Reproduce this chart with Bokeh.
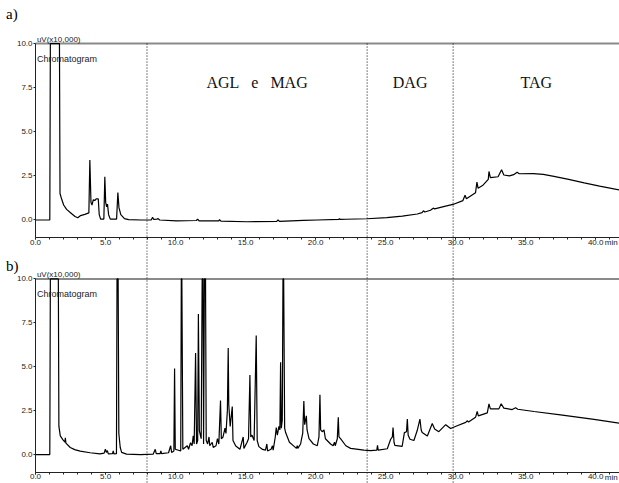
from bokeh.plotting import figure
from bokeh.layouts import column
from bokeh.models import Range1d, FixedTicker, NumeralTickFormatter, ColumnDataSource
from bokeh.core.properties import value
from bokeh.embed import file_html
from bokeh.resources import INLINE

# ---- chromatogram (a): retention time [min] and detector signal [uV x 10,000] ----
a_time = [
    0.0, 1.02, 1.06, 1.71, 1.75, 1.86, 2.01, 2.22, 2.52, 2.82,
    3.02, 3.22, 3.52, 3.81, 3.88, 3.96, 4.03, 4.13, 4.23, 4.33,
    4.48, 4.55, 4.65, 4.88, 4.95, 5.01, 5.08, 5.14, 5.22, 5.34,
    5.79, 5.88, 5.96, 6.09, 6.35, 6.65, 7.55, 8.26, 8.36, 8.44,
    8.66, 8.76, 8.86, 10.07, 11.48, 11.58, 11.68, 13.09, 13.14, 13.24,
    15.1, 17.22, 17.32, 17.42, 19.13, 20.14, 21.65, 21.7, 21.75, 22.16,
    23.67, 25.08, 26.19, 27.26, 27.6, 27.7, 27.8, 28.2, 28.4, 28.5,
    29.21, 29.81, 30.52, 30.67, 30.77, 31.42, 31.52, 31.6, 31.92, 32.33,
    32.38, 32.48, 33.03, 33.28, 33.44, 33.84, 34.14, 34.39, 34.54, 35.55,
    36.26, 37.02, 38.07, 39.18, 40.28, 41.7,
]
a_signal = [
    0.0, 0.0, 10.0, 10.0, 1.5, 1.2, 0.85, 0.6, 0.4, 0.2,
    0.13, 0.25, 0.32, 0.4, 3.4, 1.0, 0.85, 1.15, 1.1, 1.2,
    1.2, 0.3, 0.05, 0.05, 2.45, 1.0, 0.75, 0.9, 0.3, 0.05,
    0.05, 1.55, 0.7, 0.3, 0.08, 0.02, 0.0, 0.0, 0.15, 0.03,
    0.05, 0.08, 0.0, -0.05, -0.03, 0.05, -0.05, -0.05, 0.02, -0.07,
    -0.1, -0.08, 0.0, -0.08, -0.02, 0.0, 0.03, 0.08, 0.03, 0.04,
    0.07, 0.13, 0.22, 0.34, 0.42, 0.52, 0.45, 0.55, 0.67, 0.63,
    0.77, 0.88, 1.1, 1.4, 1.2, 1.55, 2.15, 1.8, 1.95, 2.3,
    2.75, 2.4, 2.45, 2.85, 2.55, 2.5, 2.57, 2.7, 2.62, 2.63,
    2.58, 2.47, 2.3, 2.1, 1.92, 1.7,
]

# ---- chromatogram (b) ----
b_time = [
    0.0, 1.02, 1.06, 1.63, 1.67, 1.77, 1.95, 2.1, 2.13, 2.17,
    2.48, 2.8, 3.19, 3.9, 4.6, 4.9, 4.99, 5.06, 5.13, 5.2,
    5.5, 5.55, 5.6, 5.78, 5.82, 5.9, 5.95, 6.05, 6.15, 6.5,
    7.5, 8.4, 8.55, 8.62, 8.9, 8.95, 9.0, 9.5, 9.65, 9.72,
    9.88, 9.93, 9.98, 10.37, 10.41, 10.45, 10.52, 10.84, 10.93, 11.07,
    11.18, 11.26, 11.33, 11.43, 11.5, 11.58, 11.63, 11.7, 11.83, 11.9,
    11.96, 12.0, 12.06, 12.14, 12.19, 12.29, 12.39, 12.44, 12.62, 12.69,
    12.89, 12.99, 13.09, 13.21, 13.27, 13.39, 13.53, 13.6, 13.7, 13.76,
    13.8, 13.9, 14.05, 14.1, 14.3, 14.6, 14.83, 14.88, 15.11, 15.21,
    15.31, 15.37, 15.46, 15.61, 15.76, 15.83, 15.95, 16.21, 16.42, 16.52,
    16.57, 16.82, 16.92, 16.97, 17.12, 17.19, 17.27, 17.38, 17.45, 17.5,
    17.55, 17.62, 17.67, 17.72, 17.79, 17.86, 18.13, 18.45, 18.63, 18.69,
    18.73, 18.93, 19.0, 19.08, 19.16, 19.22, 19.34, 19.39, 19.53, 19.84,
    20.12, 20.24, 20.31, 20.36, 20.47, 20.6, 20.7, 21.07, 21.25, 21.35,
    21.4, 21.55, 21.62, 21.67, 21.78, 22.16, 22.5, 23.45, 23.93, 24.37,
    24.42, 24.47, 25.12, 25.36, 25.48, 25.53, 25.6, 25.66, 26.18, 26.34,
    26.49, 26.55, 26.61, 26.74, 27.02, 27.26, 27.45, 27.54, 27.61, 27.98,
    28.33, 28.5, 28.8, 29.29, 29.64, 30.11, 30.72, 30.82, 30.92, 31.42,
    31.54, 31.62, 32.26, 32.38, 32.48, 33.09, 33.25, 33.44, 34.04, 34.28,
    34.44, 35.59, 37.49, 39.88, 41.7,
]
b_signal = [
    0.0, 0.0, 10.0, 10.0, 1.6, 1.06, 0.85, 0.7, 0.95, 0.65,
    0.4, 0.28, 0.19, 0.1, 0.04, 0.08, 0.3, 0.12, 0.22, 0.04,
    0.05, 0.2, 0.04, 0.05, 10.0, 10.0, 1.2, 0.4, 0.12, 0.02,
    0.0, 0.02, 0.3, 0.05, 0.05, 0.2, 0.05, 0.1, 0.5, 0.12,
    0.2, 4.9, 0.3, 0.2, 10.0, 10.0, 0.3, 0.5, 0.3, 0.67,
    0.5, 1.06, 0.6, 5.78, 0.6, 0.8, 8.0, 1.35, 0.9, 10.0,
    10.0, 0.6, 10.0, 10.0, 0.8, 0.6, 1.0, 0.5, 0.7, 0.4,
    0.5, 0.9, 0.6, 3.08, 0.9, 1.0, 1.5, 1.2, 2.5, 6.07,
    2.85, 1.6, 2.73, 0.8, 0.48, 0.3, 1.0, 0.35, 0.7, 0.9,
    4.53, 1.0, 1.1, 0.8, 6.78, 0.8, 0.45, 0.29, 0.25, 0.6,
    0.2, 0.3, 0.5, 0.25, 1.0, 1.54, 1.1, 1.6, 1.4, 5.26,
    1.5, 1.95, 10.0, 10.0, 1.5, 1.25, 0.7, 0.48, 0.35, 0.5,
    0.35, 0.6, 0.9, 1.2, 3.05, 1.7, 2.2, 1.4, 0.9, 0.6,
    0.5, 1.0, 3.41, 1.4, 1.3, 1.4, 0.9, 0.6, 0.5, 0.7,
    0.5, 0.9, 2.12, 1.0, 0.9, 0.5, 0.35, 0.25, 0.22, 0.25,
    0.52, 0.25, 0.33, 0.87, 1.0, 1.54, 0.7, 0.52, 0.46, 1.25,
    1.3, 2.02, 1.1, 0.87, 0.8, 1.38, 2.02, 1.4, 1.25, 1.06,
    1.77, 1.45, 1.3, 1.7, 1.48, 1.64, 1.83, 1.92, 1.85, 2.12,
    2.45, 2.2, 2.37, 2.89, 2.6, 2.6, 2.89, 2.64, 2.56, 2.66,
    2.58, 2.45, 2.26, 2.0, 1.79,
]

# ---- axes and annotations ----
time_ticks = [0, 5, 10, 15, 20, 25, 30, 35, 40]
time_minor_ticks = list(range(0, 42))
signal_ticks = [0.0, 2.5, 5.0, 7.5, 10.0]
full_scale = 10.0
region_bounds = [7.96, 23.68, 29.82]
region_names = ["AGL\u00a0\u00a0\u00a0e\u00a0\u00a0\u00a0MAG", "DAG", "TAG"]
panel_letters = ["a)", "b)"]
unit_text = "uV(x10,000)"
trace_title = "Chromatogram"

X_START = -2.5   # room left of the signal axis for its tick labels
X_END = 41.7
SANS = "Liberation Sans"
SERIF = "Liberation Serif"
INK = "#222222"


def make_panel(height, y_lo, y_hi, times, signal, letter, letter_y, dotted_from_top):
    p = figure(width=619, height=height,
               x_range=Range1d(X_START, X_END), y_range=Range1d(y_lo, y_hi),
               output_backend="svg", toolbar_location=None,
               min_border_left=0, min_border_right=0,
               min_border_top=0, min_border_bottom=0,
               outline_line_color=None, background_fill_color="white",
               border_fill_color="white")
    p.xgrid.visible = False
    p.ygrid.visible = False

    # both axes are pinned inside the frame so the frame spans the whole panel
    xa = p.xaxis[0]
    xa.fixed_location = -1.0
    xa.bounds = (0, X_END)
    xa.ticker = FixedTicker(ticks=time_ticks, minor_ticks=time_minor_ticks)
    xa.formatter = NumeralTickFormatter(format="0.0")
    xa.major_tick_in = 0
    xa.major_tick_out = 2
    xa.minor_tick_in = 0
    xa.minor_tick_out = 2
    xa.major_label_standoff = 0
    xa.major_label_text_font = SANS
    xa.major_label_text_font_size = "8px"
    xa.major_label_text_color = INK
    xa.axis_line_color = INK
    xa.major_tick_line_color = INK
    xa.minor_tick_line_color = INK

    ya = p.yaxis[0]
    ya.fixed_location = 0.0
    ya.bounds = (-1.0, full_scale)
    ya.ticker = FixedTicker(ticks=signal_ticks, minor_ticks=[])
    ya.formatter = NumeralTickFormatter(format="0.0")
    ya.major_tick_in = 0
    ya.major_tick_out = 2
    ya.major_label_standoff = 1
    ya.major_label_text_font = SANS
    ya.major_label_text_font_size = "8px"
    ya.major_label_text_color = INK
    ya.axis_line_color = INK
    ya.major_tick_line_color = INK

    # full-scale limit line
    p.segment(x0=[0], x1=[X_END], y0=[full_scale], y1=[full_scale],
              line_color="#8a8a8a", line_width=2)

    # fraction boundaries
    top = full_scale if dotted_from_top else y_hi
    p.segment(x0=region_bounds, x1=region_bounds,
              y0=[top] * len(region_bounds), y1=[y_lo] * len(region_bounds),
              line_color="black", line_width=1, line_dash="1 2")

    src = ColumnDataSource(dict(t=times, s=signal))
    p.line("t", "s", source=src, line_color="black", line_width=1.2)

    p.text(x=[0.1], y=[full_scale + 0.25], text=[unit_text],
           text_font=value(SANS), text_font_size="8px", text_color=INK,
           text_align="left", text_baseline="alphabetic")
    p.text(x=[0.1], y=[9.12], text=[trace_title],
           text_font=value(SANS), text_font_size="9px", text_color=INK,
           text_align="left", text_baseline="alphabetic")
    p.text(x=[40.65], y=[-1.3], text=["min"],
           text_font=value(SANS), text_font_size="8px", text_color=INK,
           text_align="left", text_baseline="middle")
    p.text(x=[-2.1], y=[letter_y], text=[letter],
           text_font=value(SERIF), text_font_size="15px", text_color="black",
           text_align="left", text_baseline="alphabetic")
    return p


top = make_panel(250, -1.73, 12.44, a_time, a_signal, panel_letters[0], 11.7, True)
bottom = make_panel(233, -1.65, 11.62, b_time, b_signal, panel_letters[1], 10.75, False)

# fraction names centred between the boundaries
edges = region_bounds + [X_END]
centres = [(edges[i] + edges[i + 1]) / 2 for i in range(len(region_names))]
top.text(x=centres, y=[7.79] * len(centres), text=region_names,
         text_font=value(SERIF), text_font_size="16px", text_color="#111111",
         text_align="center", text_baseline="alphabetic")

p = column(top, bottom, spacing=0)
open("out.html", "w").write(file_html(p, INLINE))
